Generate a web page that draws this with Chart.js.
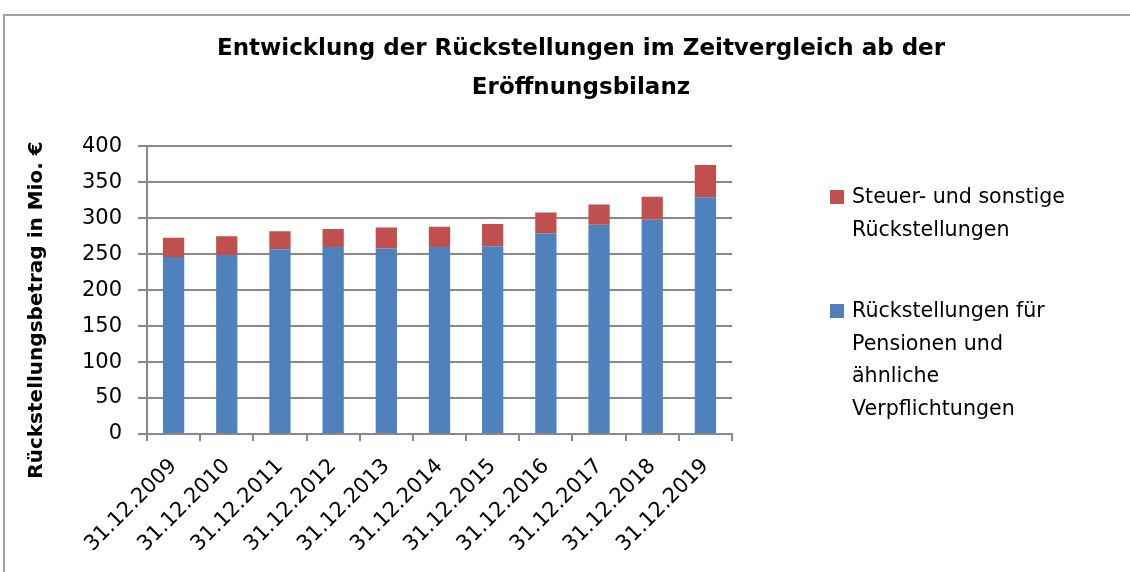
<!DOCTYPE html>
<html>
<head>
<meta charset="utf-8">
<script src="https://cdn.jsdelivr.net/npm/chart.js@4/dist/chart.umd.min.js"></script>
<style>
  html, body { margin: 0; padding: 0; background: #fff; }
  #wrap { position: relative; width: 1130px; height: 572px; overflow: hidden; }
  #frame { position: absolute; left: 3px; top: 14px; width: 1200px; height: 700px; border: 2px solid #a0a0a0; box-sizing: border-box; }
  #legend { position: absolute; left: 830px; top: 180px; font-family: "DejaVu Sans", sans-serif; font-size: 20.6px; color: #000; }
  .item { position: absolute; left: 0; width: 300px; }
  .item .box { position: absolute; left: 0; width: 14px; height: 14px; }
  .item .txt { position: absolute; left: 22px; line-height: 32.5px; white-space: nowrap; }
</style>
</head>
<body>
<div id="wrap">
  <div id="frame"></div>
  <canvas id="chart" width="1130" height="572"></canvas>
  <div id="legend"></div>
</div>
<script>
// Rückstellungen in Mio. €, gelesen aus der Grafik
const dates = ['31.12.2009', '31.12.2010', '31.12.2011', '31.12.2012', '31.12.2013', '31.12.2014',
               '31.12.2015', '31.12.2016', '31.12.2017', '31.12.2018', '31.12.2019'];
const pensionen = [246, 249, 257, 260, 258, 260, 261, 279, 291, 298, 329];
const steuerSonstige = [27, 26, 25, 25, 29, 28, 31, 29, 28, 32, 45];
const yTicks = [0, 50, 100, 150, 200, 250, 300, 350, 400];
const yTitle = 'Rückstellungsbetrag in Mio. €';

const BLUE = '#4F81BD';
const RED = '#C0504D';
const GRID = '#888888';
const FONT = '"DejaVu Sans", sans-serif';

const legendItems = [
    { color: RED, lines: ['Steuer- und sonstige', 'Rückstellungen'], top: 0 },
    { color: BLUE, lines: ['Rückstellungen für', 'Pensionen und', 'ähnliche', 'Verpflichtungen'], top: 114 }
];

function buildLegend() {
    const el = document.getElementById('legend');
    legendItems.forEach(item => {
        const div = document.createElement('div');
        div.className = 'item';
        div.style.top = item.top + 'px';
        div.innerHTML = `<span class="box" style="background:${item.color};top:10px"></span>` +
            `<span class="txt" style="top:0">${item.lines.join('<br>')}</span>`;
        el.appendChild(div);
    });
}
buildLegend();

// y axis title sits lower than the plot centre in the original, so draw it ourselves
const yTitlePlugin = {
    id: 'yTitle',
    afterDraw(chart) {
        const c = chart.ctx;
        c.save();
        c.translate(37, 310);
        c.rotate(-Math.PI / 2);
        c.font = `bold 20px ${FONT}`;
        c.fillStyle = '#000';
        c.textAlign = 'center';
        c.textBaseline = 'middle';
        c.fillText(yTitle, 0, 0);
        c.restore();
    }
};

const ctx = document.getElementById('chart').getContext('2d');
new Chart(ctx, {
    type: 'bar',
    data: {
        labels: dates,
        datasets: [
            {
                label: 'Rückstellungen für Pensionen und ähnliche Verpflichtungen',
                data: pensionen,
                backgroundColor: BLUE,
                barPercentage: 0.4,
                categoryPercentage: 1.0
            },
            {
                label: 'Steuer- und sonstige Rückstellungen',
                data: steuerSonstige,
                backgroundColor: RED,
                barPercentage: 0.4,
                categoryPercentage: 1.0
            }
        ]
    },
    plugins: [yTitlePlugin],
    options: {
        responsive: false,
        animation: false,
        layout: { padding: { left: 32, top: 0, bottom: 0, right: 0 } },
        plugins: {
            legend: { display: false },
            tooltip: { enabled: false },
            title: {
                display: true,
                text: ['Entwicklung der Rückstellungen im Zeitvergleich ab der', 'Eröffnungsbilanz'],
                color: '#000',
                font: { family: FONT, size: 23, weight: 'bold', lineHeight: 1.68 },
                padding: { top: 30, bottom: 39 }
            }
        },
        scales: {
            x: {
                stacked: true,
                grid: { display: true, drawOnChartArea: false, offset: true, color: GRID, lineWidth: 2, tickLength: 7 },
                border: { color: GRID, width: 2 },
                ticks: {
                    color: '#000',
                    font: { family: FONT, size: 21 },
                    maxRotation: 45,
                    minRotation: 45,
                    padding: 13
                },
                afterFit: s => { s.height = 138; }
            },
            y: {
                stacked: true,
                min: 0,
                max: 400,
                afterBuildTicks: s => { s.ticks = yTicks.map(v => ({ value: v })); },
                grid: { color: GRID, lineWidth: 2, tickLength: 9 },
                border: { color: GRID, width: 2 },
                ticks: {
                    color: '#000',
                    font: { family: FONT, size: 21 },
                    padding: 16
                },
                afterFit: s => { s.width = 115; }
            },
            spacer: {
                type: 'linear',
                position: 'right',
                display: true,
                grid: { display: false },
                border: { display: false },
                ticks: { display: false },
                afterFit: s => { s.width = 398; }
            }
        }
    }
});
</script>
</body>
</html>
